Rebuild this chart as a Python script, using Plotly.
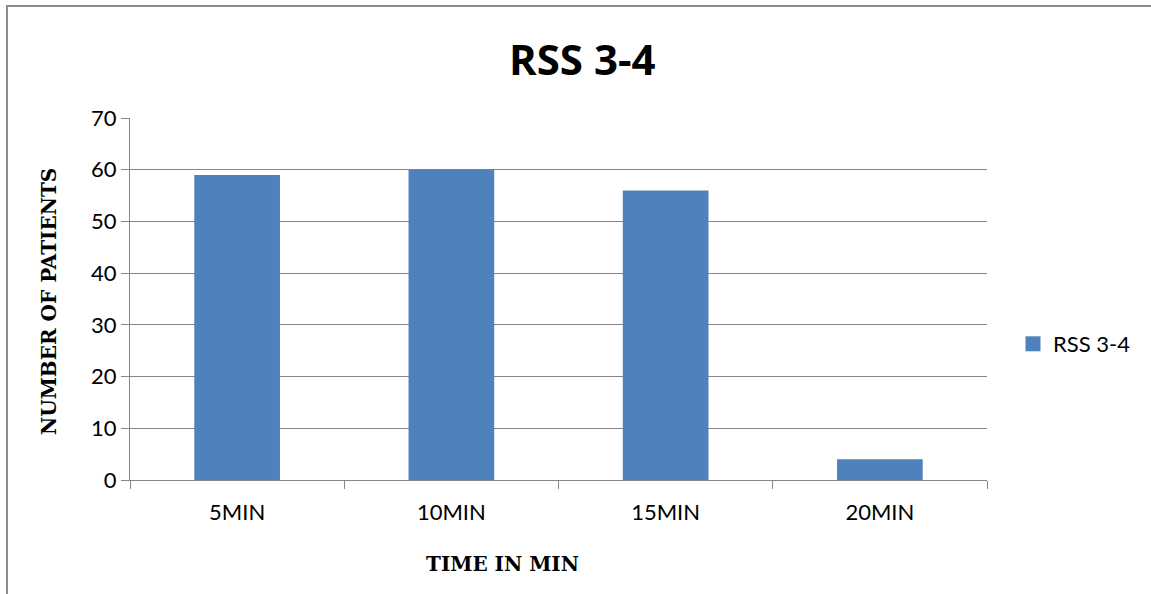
import plotly.graph_objects as go

categories = ["5MIN", "10MIN", "15MIN", "20MIN"]
values = [59, 60, 56, 4]
series_name = "RSS 3-4"
y_ticks = [0, 10, 20, 30, 40, 50, 60, 70]

W, H = 1151, 594
# plot area in screen pixels
PX0, PX1, PY0, PY1 = 130, 987, 118, 480
PW, PH = PX1 - PX0, PY1 - PY0


def xp(sx):
    return (sx - PX0) / PW


def yp(sy):
    return (PY1 - sy) / PH


BAR_COLOR = "#4F81BD"
GRID = "#868686"
TICK_FONT = "Lato, 'Open Sans', sans-serif"
SERIF = "'DejaVu Serif', 'Liberation Serif', serif"

fig = go.Figure()
fig.add_trace(go.Bar(x=categories, y=values, name=series_name,
                     marker=dict(color=BAR_COLOR, line=dict(width=0)),
                     showlegend=False))
# legend entry with a larger square swatch
fig.add_trace(go.Scatter(x=[None], y=[None], mode="markers", name=series_name,
                         marker=dict(symbol="square", size=15, color=BAR_COLOR, line=dict(width=0)),
                         showlegend=True, hoverinfo="skip"))

fig.update_layout(
    width=W, height=H,
    margin=dict(l=PX0, r=W - PX1, t=PY0, b=H - PY1),
    paper_bgcolor="white", plot_bgcolor="white",
    bargap=0.6,
    font=dict(family=TICK_FONT, color="black", size=22),
    xaxis=dict(showline=True, linecolor=GRID, linewidth=1.3,
               ticks="outside", tickson="boundaries", ticklen=8, tickcolor=GRID,
               tickfont=dict(size=22), showgrid=False, fixedrange=True,
               ticklabelstandoff=12),
    yaxis=dict(range=[0, 70], tickvals=y_ticks, showline=True, linecolor=GRID, linewidth=1.3,
               ticks="outside", ticklen=8, tickcolor=GRID, showgrid=True, gridcolor=GRID,
               gridwidth=1.3, zeroline=False, tickfont=dict(size=22)),
    legend=dict(x=xp(1013), y=yp(344), xanchor="left", yanchor="middle",
                font=dict(size=22), bgcolor="rgba(0,0,0,0)", itemsizing="trace"),
    showlegend=True,
)

# chart title
fig.add_annotation(text="<b>RSS 3-4</b>", xref="paper", yref="paper",
                   x=xp(582), y=yp(59), showarrow=False, xanchor="center", yanchor="middle",
                   font=dict(family="'Open Sans', Lato, sans-serif", size=42, color="black"))
# axis titles
fig.add_annotation(text="<b>NUMBER OF PATIENTS</b>", xref="paper", yref="paper",
                   x=xp(49), y=yp(302), textangle=-90, showarrow=False,
                   xanchor="center", yanchor="middle",
                   font=dict(family=SERIF, size=20, color="black"))
fig.add_annotation(text="<b>TIME IN MIN</b>", xref="paper", yref="paper",
                   x=xp(502), y=yp(564), showarrow=False,
                   xanchor="center", yanchor="middle",
                   font=dict(family=SERIF, size=20, color="black"))

# outer chart border (cropped at right/bottom)
fig.add_shape(type="rect", xref="paper", yref="paper",
              x0=xp(7), x1=xp(W + 30), y0=yp(H + 30), y1=yp(6),
              line=dict(color="#8C8C8C", width=2), fillcolor="rgba(0,0,0,0)", layer="below")

fig.write_html("out.html", config={"displayModeBar": False},
               post_script="document.body.style.margin='0';document.body.style.overflow='hidden';")
